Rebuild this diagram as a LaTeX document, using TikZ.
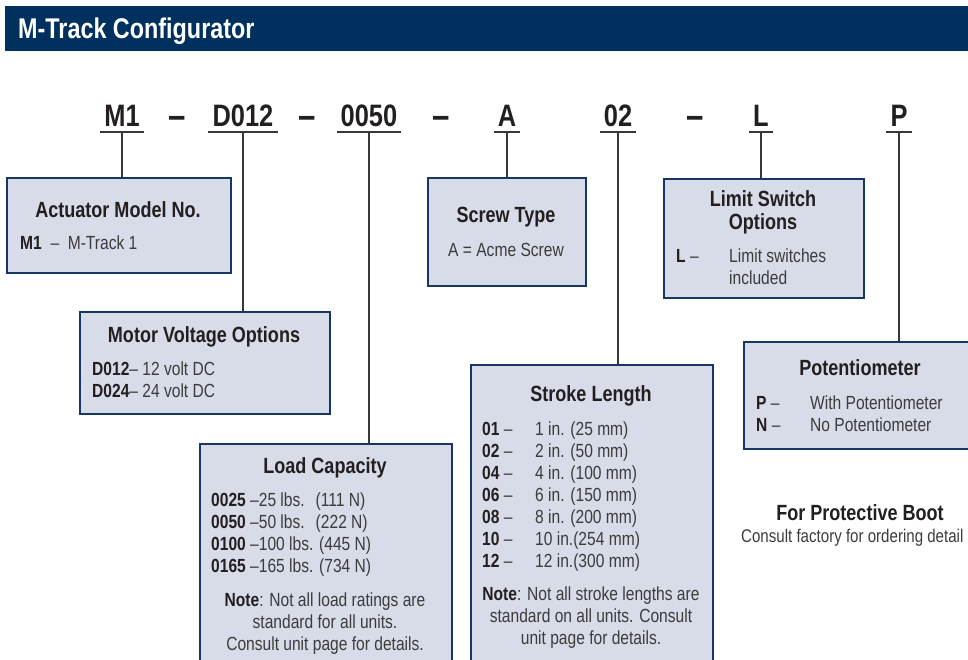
\documentclass[tikz,border=0pt]{standalone}
\usepackage{fontspec}
\setmainfont{Liberation Sans}[FakeStretch=0.82]
\definecolor{navy}{RGB}{0,48,94}
\definecolor{boxfill}{RGB}{216,219,232}
\definecolor{boxline}{RGB}{22,55,100}
\definecolor{lead}{RGB}{55,55,55}
\definecolor{bodytxt}{RGB}{60,60,60}
\definecolor{darktxt}{RGB}{35,31,32}
\begin{document}
\begin{tikzpicture}[x=1pt,y=-1pt,
  header/.style={fill=navy,draw=none,anchor=north west,inner sep=0pt},
  headtxt/.style={text=white,font=\bfseries\fontsize{28.5}{31}\selectfont,anchor=base west,inner sep=0pt},
  codetxt/.style={text=darktxt,font=\bfseries\fontsize{31}{34}\selectfont,anchor=base,inner xsep=4pt,inner ysep=0pt},
  dashtxt/.style={text=darktxt,font=\bfseries\fontsize{38}{40}\selectfont,anchor=base,inner sep=0pt},
  infobox/.style={fill=boxfill,draw=boxline,line width=1.5pt,anchor=north west,inner sep=0pt},
  titletxt/.style={text=darktxt,font=\bfseries\fontsize{22}{25}\selectfont,anchor=base,inner sep=0pt},
  bodytext/.style={text=bodytxt,font=\fontsize{19}{22}\selectfont,anchor=base west,inner sep=0pt},
  bodyc/.style={text=bodytxt,font=\fontsize{19}{22}\selectfont,anchor=base,inner sep=0pt},
  leader/.style={draw=lead,line width=1.1pt},
  uline/.style={draw=lead,line width=1.1pt}
]
\useasboundingbox (0,0) rectangle (968,659);
\clip (0,0) rectangle (968,659);
\newcommand{\bk}[1]{\textcolor{darktxt}{\bfseries #1}}

% header
\node[header,minimum width=966pt,minimum height=45pt] (hdr) at (5,6) {};
\node[headtxt] (hdrt) at (18,38) {M-Track Configurator};

% code line
\node[codetxt] (cm1) at (122,126) {M1};
\node[dashtxt] (d1) at (177,128) {–};
\node[codetxt] (cd) at (243,126) {D012};
\node[dashtxt] (d2) at (307,128) {–};
\node[codetxt] (cl) at (369,126) {0050};
\node[dashtxt] (d3) at (441,128) {–};
\node[codetxt] (ca) at (507,126) {A};
\node[codetxt] (cs) at (618,126) {02};
\node[dashtxt] (d4) at (695,128) {–};
\node[codetxt] (cls) at (761,126) {L};
\node[codetxt] (cp) at (899,126) {P};

\foreach \n in {cm1,cd,cl,ca,cs,cls,cp}{
  \draw[uline] ([yshift=-6pt]\n.base west) -- ([yshift=-6pt]\n.base east);
  \coordinate (\n u) at ([yshift=-6pt]\n.base);
}

% boxes
\node[infobox,minimum width=224pt,minimum height=95pt] (act) at (6,177) {};
\node[infobox,minimum width=250pt,minimum height=102pt] (mot) at (79,311) {};
\node[infobox,minimum width=252pt,minimum height=240pt] (load) at (199,443) {};
\node[infobox,minimum width=158pt,minimum height=108pt] (scr) at (427,177) {};
\node[infobox,minimum width=242pt,minimum height=320pt] (stk) at (470,364) {};
\node[infobox,minimum width=200pt,minimum height=119pt] (lim) at (663,178) {};
\node[infobox,minimum width=260pt,minimum height=107pt] (pot) at (743,341) {};

% leaders
\draw[leader] (cm1u) -- (cm1u |- act.north);
\draw[leader] (cdu) -- (cdu |- mot.north);
\draw[leader] (clu) -- (clu |- load.north);
\draw[leader] (cau) -- (cau |- scr.north);
\draw[leader] (csu) -- (csu |- stk.north);
\draw[leader] (clsu) -- (clsu |- lim.north);
\draw[leader] (cpu) -- (cpu |- pot.north);

% Actuator
\node[titletxt] (actt) at (118,217) {Actuator Model No.};
\node[bodytext] (act1) at (20,249) {\bk{M1}\ \ –\ \ M-Track 1};

% Motor voltage
\node[titletxt] (mott) at (204,342) {Motor Voltage Options};
\node[bodytext] (mot1) at (92,375) {\bk{D012}– 12 volt DC};
\node[bodytext] (mot2) at (92,397) {\bk{D024}– 24 volt DC};

% Load capacity
\node[titletxt] (loadt) at (325,473) {Load Capacity};
\node[bodytext] (ld1) at (211,506) {\bk{0025} –25 lbs.\hspace{11pt}(111 N)};
\node[bodytext] (ld2) at (211,528) {\bk{0050} –50 lbs.\hspace{11pt}(222 N)};
\node[bodytext] (ld3) at (211,550) {\bk{0100} –100 lbs. (445 N)};
\node[bodytext] (ld4) at (211,572) {\bk{0165} –165 lbs. (734 N)};
\node[bodyc] (ldn1) at (325,606) {\bk{Note}: Not all load ratings are};
\node[bodyc] (ldn2) at (325,628) {standard for all units.};
\node[bodyc] (ldn3) at (325,650) {Consult unit page for details.};

% Screw type
\node[titletxt] (scrt) at (506,222) {Screw Type};
\node[bodyc] (scr1) at (506,256) {A = Acme Screw};

% Stroke length
\node[titletxt] (stkt) at (591,401) {Stroke Length};
\foreach \c/\v/\yy in {01/1 in. (25 mm)/435, 02/2 in. (50 mm)/457, 04/4 in. (100 mm)/479, 06/6 in. (150 mm)/501, 08/8 in. (200 mm)/523, 10/10 in.(254 mm)/545, 12/12 in.(300 mm)/567}{
  \node[bodytext] (sk\c) at (482,\yy) {\bk{\c} –};
  \node[bodytext] (sv\c) at (535,\yy) {\v};
}
\node[bodyc] (stn1) at (591,600) {\bk{Note}: Not all stroke lengths are};
\node[bodyc] (stn2) at (591,622) {standard on all units. Consult};
\node[bodyc] (stn3) at (591,644) {unit page for details.};

% Limit switch
\node[titletxt] (limt1) at (763,206) {Limit Switch};
\node[titletxt] (limt2) at (763,229) {Options};
\node[bodytext] (lim1k) at (676,262) {\bk{L} –};
\node[bodytext] (lim1v) at (729,262) {Limit switches};
\node[bodytext] (lim2v) at (729,284) {included};

% Potentiometer
\node[titletxt] (pott) at (860,375) {Potentiometer};
\node[bodytext] (pot1k) at (756,409) {\bk{P} –};
\node[bodytext] (pot1v) at (810,409) {With Potentiometer};
\node[bodytext] (pot2k) at (756,431) {\bk{N} –};
\node[bodytext] (pot2v) at (810,431) {No Potentiometer};

% Protective boot
\node[titletxt] (boot) at (860,520) {For Protective Boot};
\node[bodytext,font=\fontsize{18.4}{22}\selectfont] (boot2) at (741,542) {Consult factory for ordering detail};
\end{tikzpicture}
\end{document}
